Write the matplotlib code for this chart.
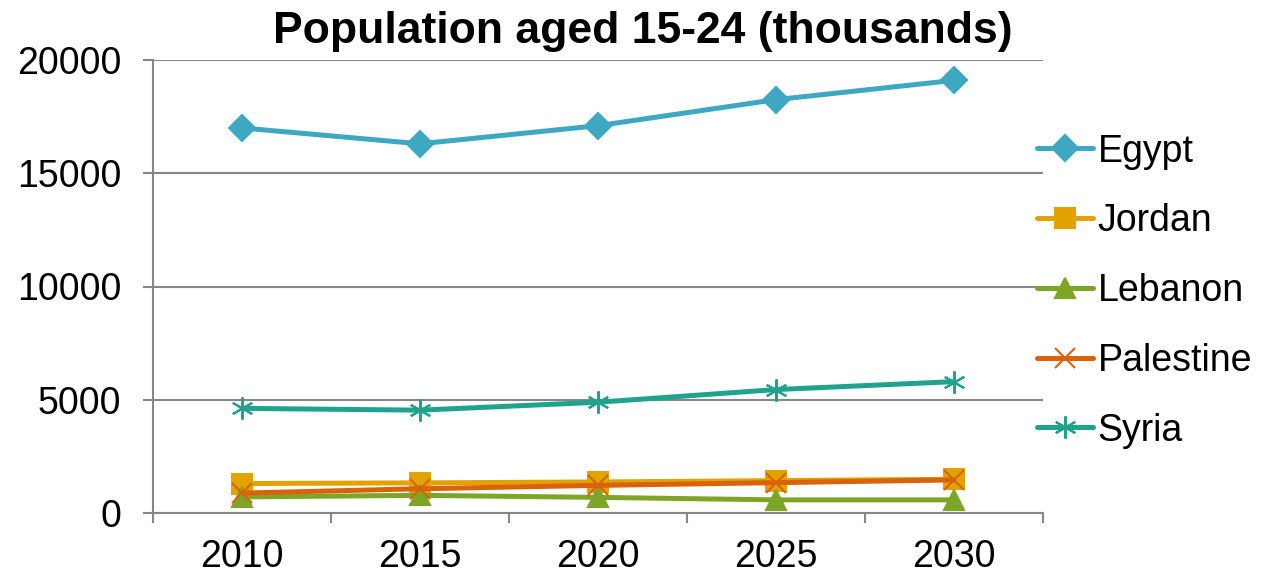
import matplotlib.pyplot as plt
from matplotlib.ticker import FixedLocator

plt.rcParams['font.family'] = ['Liberation Sans', 'DejaVu Sans']

years = ['2010', '2015', '2020', '2025', '2030']
egypt = [17000, 16300, 17100, 18250, 19100]
jordan = [1300, 1330, 1370, 1430, 1490]
lebanon = [710, 780, 690, 580, 580]
palestine = [880, 1070, 1220, 1340, 1460]
syria = [4620, 4540, 4890, 5450, 5800]

series = [('Egypt', egypt, '#3EA7C2', 'D', 13),
          ('Jordan', jordan, '#E2A300', 's', 15),
          ('Lebanon', lebanon, '#7EA626', '^', 15),
          ('Palestine', palestine, '#D9620A', 'x', 14),
          ('Syria', syria, '#1FA38C', (6, 2, 0), 16)]

fig = plt.figure(figsize=(12.62, 5.74), dpi=100)
ax = fig.add_axes([153/1262, 1-513/574, 890/1262, 453/574])

x = range(len(years))
for name, vals, col, mk, ms in series:
    ax.plot(x, vals, color=col, lw=3.6, marker=mk, markersize=ms,
            markerfacecolor=col, markeredgecolor=col, markeredgewidth=1.5,
            label=name, solid_capstyle='round', clip_on=False)

ax.set_xlim(-0.5, 4.5)
ax.set_ylim(0, 20000)
ax.set_yticks([0, 5000, 10000, 15000, 20000])
ax.set_xticks(list(x))
ax.set_xticklabels(years)
ax.xaxis.set_minor_locator(FixedLocator([i - 0.5 for i in range(6)]))

grey = '#868686'
ax.grid(axis='y', color=grey, lw=1.5)
ax.set_axisbelow(True)
for s in ['top', 'right']:
    ax.spines[s].set_visible(False)
for s in ['left', 'bottom']:
    ax.spines[s].set_color(grey)
    ax.spines[s].set_linewidth(1.5)

ax.tick_params(axis='x', which='major', length=0, pad=19, labelsize=27)
ax.tick_params(axis='x', which='minor', length=7, width=1.5, color=grey)
ax.tick_params(axis='y', length=7, width=1.5, color=grey, pad=16, labelsize=27)

fig.text(643/1262, 1-31/574, 'Population aged 15-24 (thousands)',
         ha='center', va='center', fontsize=32, fontweight='bold')

fig.legend(loc='center left', bbox_to_anchor=(1037/1262, 1-291/574),
           frameon=False, fontsize=27, handlelength=1.5, handletextpad=0.12,
           labelspacing=0.9, borderpad=0, borderaxespad=0)

fig.savefig('out.png', dpi=100)
